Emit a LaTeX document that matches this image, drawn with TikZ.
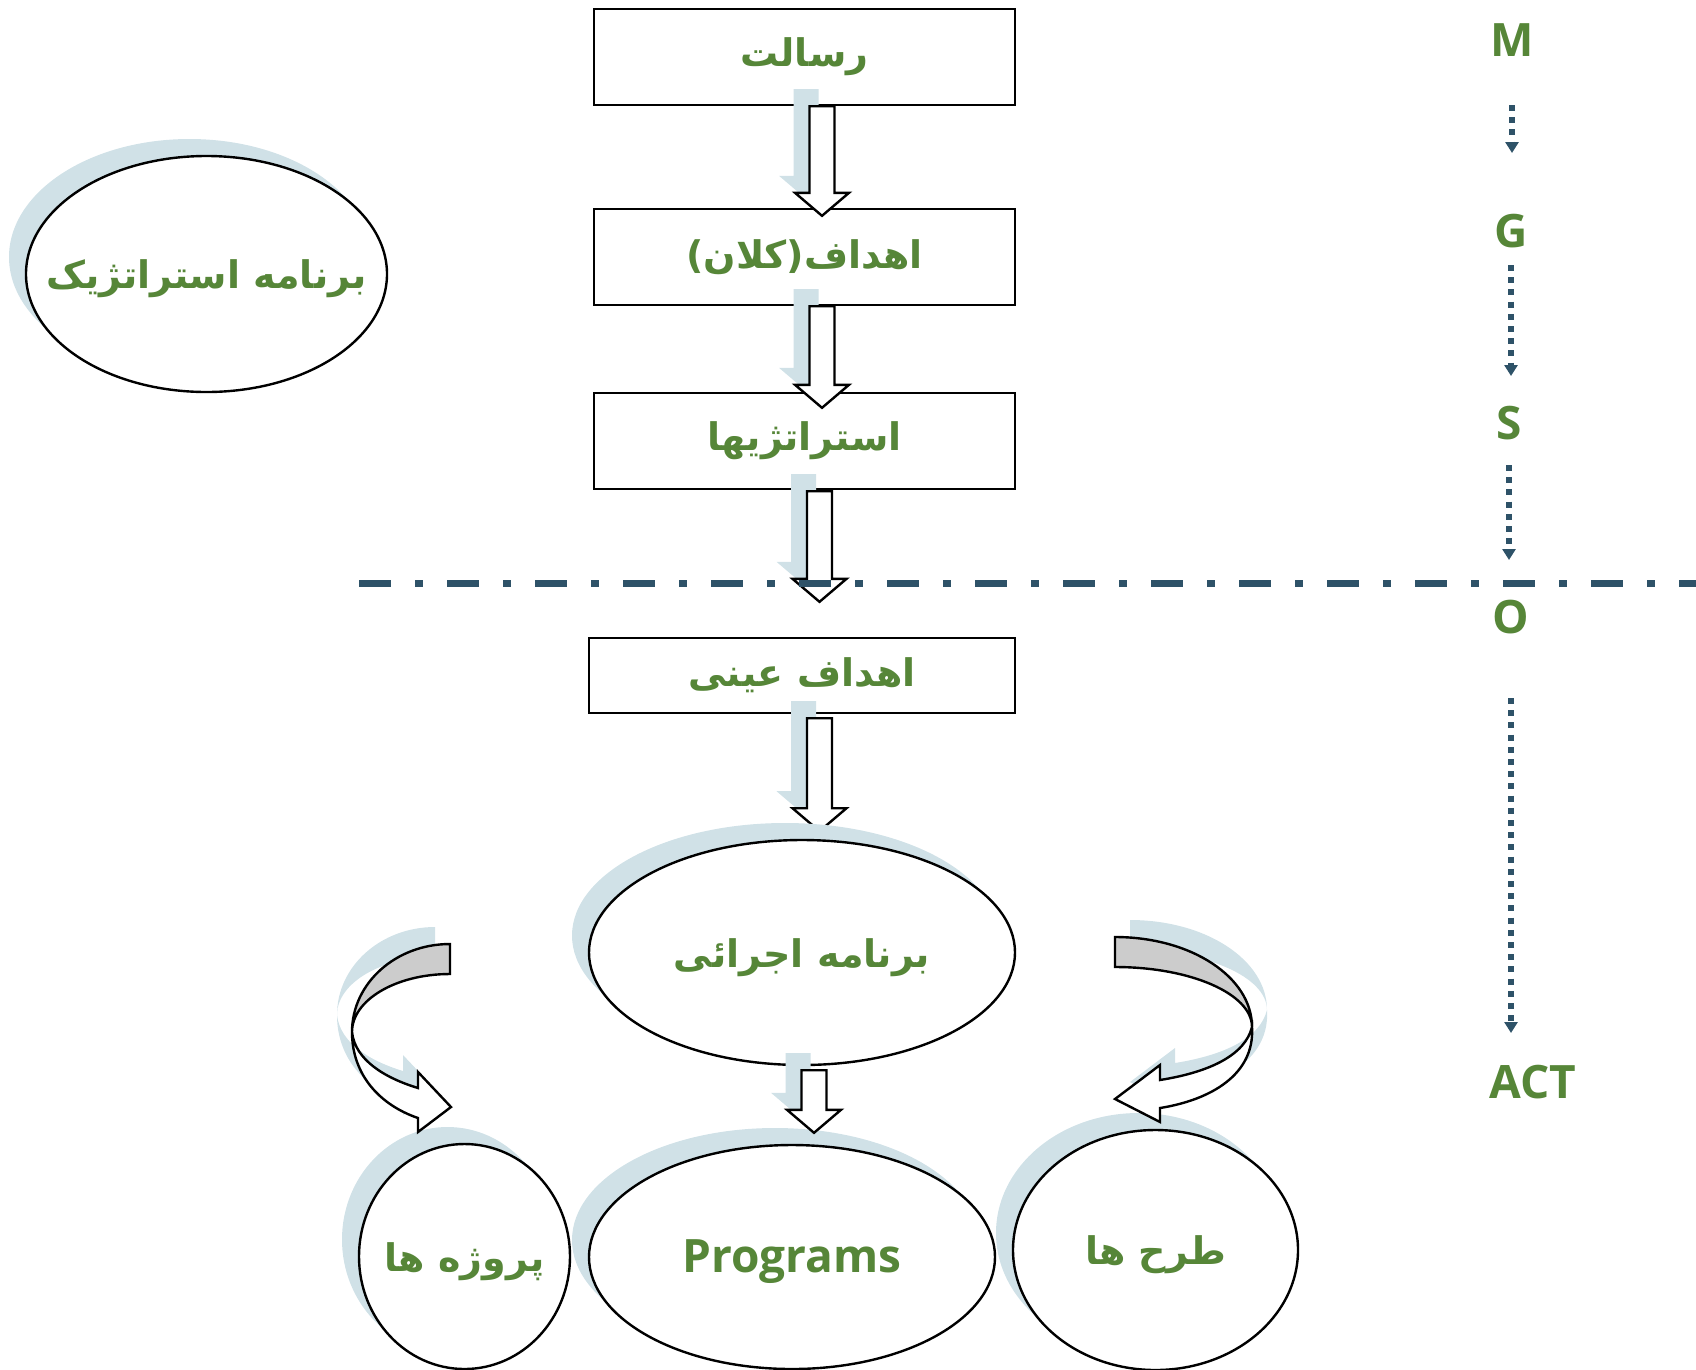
\documentclass[tikz,border=0pt]{standalone}
\usepackage{fontspec}
\TeXXeTstate=1
\newfontfamily\fafont[Script=Arabic]{DejaVu Sans}
\newfontfamily\latfont{Open Sans}
\usetikzlibrary{arrows.meta,positioning,calc,shapes.geometric,shadows}

\definecolor{txtgreen}{RGB}{86,134,56}
\definecolor{shadowblue}{RGB}{208,225,231}
\definecolor{slate}{RGB}{46,82,104}
\definecolor{bandgray}{RGB}{204,204,204}

% block arrow pointing down, with its light shadow
\newcommand\blockdown[2]{%
  \fill[shadowblue] let \p1=(#1), \p2=(#2) in
    (\x2-28.5pt,\y1+17pt) -- (\x2-3.5pt,\y1+17pt) -- (\x2-3.5pt,\y2+40pt)
    -- (\x2+11pt,\y2+40pt) -- (\x2-16pt,\y2+17pt) -- (\x2-43pt,\y2+40pt)
    -- (\x2-28.5pt,\y2+40pt) -- cycle;
  \filldraw[blockarrow] let \p1=(#1), \p2=(#2) in
    (\x2-12.5pt,\y1) -- (\x2+12.5pt,\y1) -- (\x2+12.5pt,\y2+23pt)
    -- (\x2+27pt,\y2+23pt) -- (\x2,\y2) -- (\x2-27pt,\y2+23pt)
    -- (\x2-12.5pt,\y2+23pt) -- cycle;
}

\begin{document}
\begin{tikzpicture}[x=1pt,y=-1pt,
    framebox/.style={draw,line width=2.4pt,fill=white,rectangle,inner sep=0pt,
      minimum width=421pt,minimum height=96pt,text=txtgreen,
      font=\fafont\bfseries\fontsize{38}{46}\selectfont},
    ovaltext/.style={text=txtgreen,inner sep=0pt,yshift=-5pt,
      font=\fafont\bfseries\fontsize{38}{46}\selectfont},
    oval/.style={ellipse,draw,line width=2.4pt,fill=white,inner sep=0pt,
      drop shadow={shadow xshift=-17pt,shadow yshift=17pt,fill=shadowblue,opacity=1}},
    blockarrow/.style={draw=black,fill=white,line width=2.4pt,line join=miter},
    bandgray/.style={draw=black,fill=bandgray,line width=2.4pt},
    bandwhite/.style={draw=black,fill=white,line width=2.4pt},
    letter/.style={text=txtgreen,font=\latfont\bfseries\fontsize{46}{50}\selectfont,inner sep=0pt},
    dotarrow/.style={slate,line width=6pt,dash pattern=on 6pt off 6.2pt,
      -{Triangle[width=13pt,length=11pt]}},
    dashdot/.style={slate,line width=7pt,dash pattern=on 32pt off 24pt on 8pt off 24pt}]
  \useasboundingbox (0,0) rectangle (1696,1369);

  \node[oval,minimum width=361pt,minimum height=236pt,
    label={[ovaltext]center:\beginR برنامه استراتژیک\endR}] (strat) at (206.5,274) {};

  \node[framebox] (mission) at (804.5,57) {\beginR رسالت\endR};
  \node[framebox] (goals) at (804.5,257) {\beginR اهداف(کلان)\endR};
  \node[framebox] (strategies) at (804.5,441) {\beginR استراتژیها\endR};
  \node[framebox,minimum width=426pt,minimum height=75pt] (objectives) at (802,675.5) {\beginR اهداف عینی\endR};

  \coordinate (a1s) at ($(mission.south)+(17.5,0)$);
  \coordinate (a1t) at ($(goals.north)+(17.5,8)$);
  \coordinate (a2s) at ($(goals.south)+(17.5,0)$);
  \coordinate (a2t) at ($(strategies.north)+(17.5,16)$);
  \coordinate (a3s) at ($(strategies.south)+(15,1)$);
  \coordinate (a3t) at ($(objectives.north)+(17.5,-35)$);
  \coordinate (a4s) at ($(objectives.south)+(17.5,4)$);
  \coordinate (a4t) at ($(objectives.south)+(17.5,117)$);
  \blockdown{a1s}{a1t}
  \blockdown{a2s}{a2t}
  \blockdown{a3s}{a3t}
  \blockdown{a4s}{a4t}

  \node[oval,minimum width=426pt,minimum height=225pt,
    label={[ovaltext]center:\beginR برنامه اجرائی\endR}] (execplan) at (802,952.5) {};
  \node[oval,minimum width=406pt,minimum height=224pt,
    label={[ovaltext,font=\latfont\bfseries\fontsize{46}{50}\selectfont]center:Programs}] (programs) at (792,1257) {};
  \node[oval,minimum width=211pt,minimum height=225pt,
    label={[ovaltext]center:\beginR پروژه ها\endR}] (projects) at (464.5,1256.5) {};
  \node[oval,minimum width=285pt,minimum height=240pt,
    label={[ovaltext]center:\beginR طرح ها\endR}] (plans) at (1155.5,1250) {};

  \coordinate (a5s) at ($(execplan.south)+(12,4)$);
  \coordinate (a5t) at ($(programs.north)+(22,-11)$);
  \blockdown{a5s}{a5t}

  % curved arrows
  \fill[shadowblue,shift={(-15,-17)}] (450,944) .. controls (396,944) and (352,983) .. (352,1032)
    .. controls (352,1075) and (380,1105) .. (418,1118) -- (418,1132) -- (451,1107) -- (418,1072)
    -- (418,1088) .. controls (385,1078) and (355,1060) .. (352,1032)
    .. controls (352,1000) and (396,974) .. (450,974) -- cycle;
  \filldraw[bandgray] (450,944) .. controls (396,944) and (352,983) .. (352,1032)
    .. controls (352,1000) and (396,974) .. (450,974) -- cycle;
  \filldraw[bandwhite] (352,1032) .. controls (352,1075) and (380,1105) .. (418,1118)
    -- (418,1132) -- (451,1107) -- (418,1072) -- (418,1088)
    .. controls (385,1078) and (355,1060) .. (352,1032) -- cycle;

  \fill[shadowblue,shift={(15,-17)}] (1115,937) .. controls (1191,937) and (1252,977) .. (1252,1027)
    .. controls (1255,1075) and (1210,1100) .. (1160,1108) -- (1160,1122) -- (1115,1099) -- (1160,1065)
    -- (1160,1080) .. controls (1210,1072) and (1245,1055) .. (1252,1027)
    .. controls (1252,994) and (1191,967) .. (1115,967) -- cycle;
  \filldraw[bandgray] (1115,937) .. controls (1191,937) and (1252,977) .. (1252,1027)
    .. controls (1252,994) and (1191,967) .. (1115,967) -- cycle;
  \filldraw[bandwhite] (1252,1027) .. controls (1255,1075) and (1210,1100) .. (1160,1108)
    -- (1160,1122) -- (1115,1099) -- (1160,1065) -- (1160,1080)
    .. controls (1210,1072) and (1245,1055) .. (1252,1027) -- cycle;

  % divider
  \coordinate (dl) at (359,583);
  \coordinate (dr) at (1700,583);
  \draw[dashdot] (dl) -- (dr);

  % MGSO column
  \node[letter] (M) at (1512,40) {M};
  \node[letter] (G) at (1511,231) {G};
  \node[letter] (S) at (1509,423) {S};
  \node[letter] (O) at (1511,617) {O};
  \node[letter] (ACT) at (1533,1082) {ACT};
  \draw[dotarrow,shorten <=65pt,shorten >=78pt] (M.center) -- (M.center |- G.center);
  \draw[dotarrow,shorten <=34pt,shorten >=47pt] (G.center) -- (G.center |- S.center);
  \draw[dotarrow,shorten <=42pt,shorten >=57pt] (S.center) -- (S.center |- O.center);
  \draw[dotarrow,shorten <=81pt,shorten >=49pt] (O.center) -- (O.center |- ACT.center);
\end{tikzpicture}
\end{document}
